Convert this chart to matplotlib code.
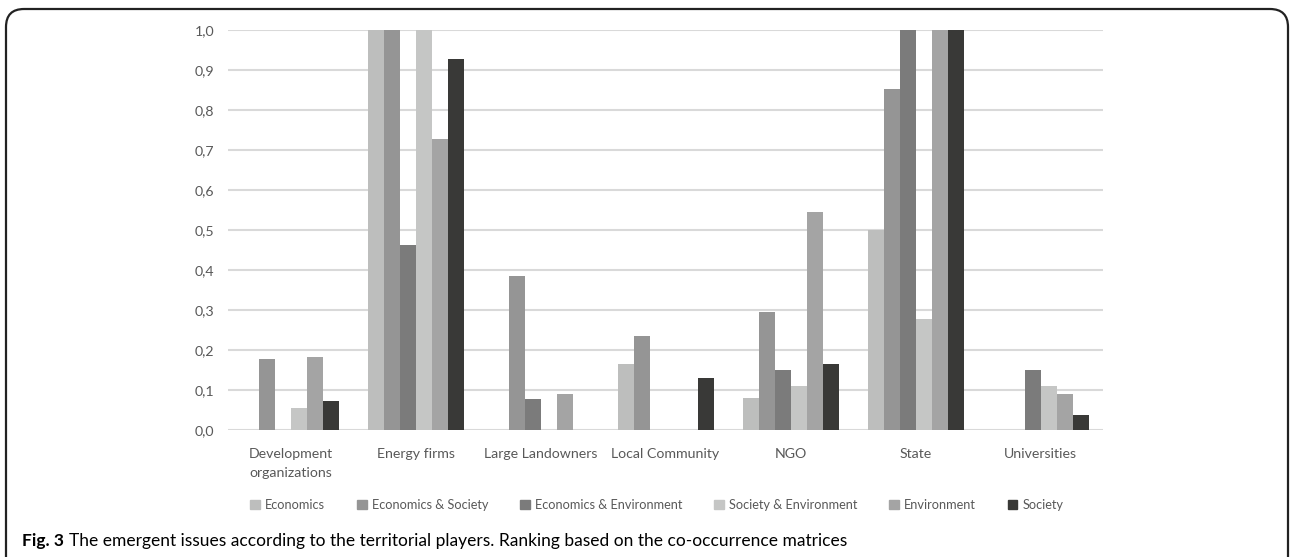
import matplotlib.pyplot as plt
import numpy as np
from matplotlib.patches import FancyBboxPatch, Patch

plt.rcParams['font.family'] = ['Lato', 'DejaVu Sans']

categories = ['Development\norganizations', 'Energy firms', 'Large Landowners',
              'Local Community', 'NGO', 'State', 'Universities']
series = ['Economics', 'Economics & Society', 'Economics & Environment',
          'Society & Environment', 'Environment', 'Society']

economics = [0.0, 1.0, 0.0, 0.165, 0.081, 0.50, 0.0]
econ_society = [0.178, 1.0, 0.385, 0.235, 0.295, 0.853, 0.0]
econ_env = [0.0, 0.462, 0.077, 0.0, 0.15, 1.0, 0.15]
society_env = [0.055, 1.0, 0.0, 0.0, 0.111, 0.278, 0.111]
environment = [0.182, 0.727, 0.091, 0.0, 0.545, 1.0, 0.09]
society = [0.072, 0.927, 0.0, 0.13, 0.165, 1.0, 0.037]

values = [economics, econ_society, econ_env, society_env, environment, society]
colors = ['#BDBEBD', '#959595', '#7B7B7B', '#C5C6C5', '#A4A4A4', '#393937']

fig = plt.figure(figsize=(12.9, 5.57), dpi=100)
ax = fig.add_axes([228/1290, 1-430/557, (1103-228)/1290, 400/557])

x = np.arange(len(categories))
w = 0.128
for j, (vals, c) in enumerate(zip(values, colors)):
    ax.bar(x + (j - 2.5) * w, vals, width=w, color=c, linewidth=0, zorder=3)

ax.set_xlim(-0.5, len(categories) - 0.5)
ax.set_ylim(0, 1.0)
yt = np.arange(0, 1.01, 0.1)
ax.set_yticks(yt)
ax.set_yticklabels([f'{v:.1f}'.replace('.', ',') for v in yt])
ax.set_xticks(x)
ax.set_xticklabels(categories, linespacing=1.7)
ax.grid(axis='y', color='#D9D9D9', linewidth=1.5, zorder=0)
ax.tick_params(axis='both', length=0, colors='#595959', labelsize=10.2)
ax.tick_params(axis='y', pad=10)
ax.tick_params(axis='x', pad=13)
for s in ax.spines.values():
    s.set_visible(False)

handles = [Patch(color=c, label=s) for s, c in zip(series, colors)]
leg = fig.legend(handles=handles, loc='center', bbox_to_anchor=(657/1290, 1-505/557),
                 ncol=6, frameon=False, handlelength=0.75, handleheight=0.75,
                 handletextpad=0.4, columnspacing=2.5, fontsize=9.2)
for t in leg.get_texts():
    t.set_color('#595959')

# rounded frame around the figure
box = FancyBboxPatch((6/1290, -0.05), (1288-6)/1290, (1 - 9/557) + 0.05,
                     boxstyle='round,pad=0,rounding_size=0.014',
                     transform=fig.transFigure, fill=False,
                     edgecolor='#222222', linewidth=1.6, mutation_aspect=1290/557)
fig.patches.append(box)

t1 = fig.text(22/1290, 1-541/557, 'Fig. 3', fontsize=12.5, fontweight='bold',
              va='center', ha='left')
fig.canvas.draw()
bb = t1.get_window_extent()
fig.text(bb.x1/1290 + 5/1290, 1-541/557,
         'The emergent issues according to the territorial players. Ranking based on the co-occurrence matrices',
         fontsize=12.5, va='center', ha='left')

fig.savefig('out.png', dpi=100)
